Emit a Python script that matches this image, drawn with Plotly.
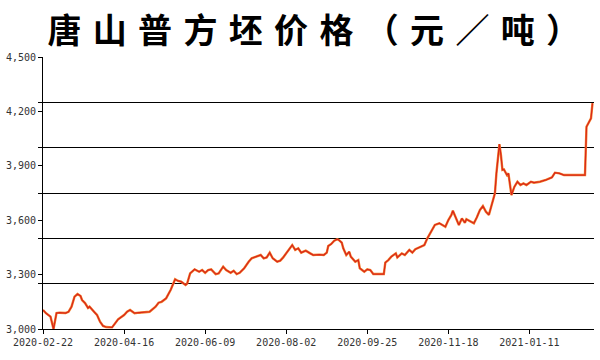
import pandas as pd
import plotly.graph_objects as go

start_date = "2020-02-22"
day_offsets = [0, 2, 5, 7, 9, 11, 15, 17, 19, 21, 23, 25, 26, 28, 30, 31, 34, 36, 38, 40,
               42, 46, 48, 50, 54, 56, 58, 61, 64, 67, 71, 75, 77, 79, 82, 85, 87, 88, 90, 92,
               95, 96, 98, 101, 104, 106, 108, 110, 112, 115, 117, 120, 122, 125, 127, 129, 131, 134, 137, 139,
               142, 145, 147, 149, 151, 153, 156, 158, 160, 162, 164, 166, 168, 170, 172, 175, 178, 180, 184, 187,
               189, 190, 192, 194, 196, 197, 199, 200, 202, 204, 205, 208, 210, 211, 214, 216, 218, 220, 227, 228,
               230, 232, 235, 236, 239, 241, 244, 246, 248, 251, 254, 256, 258, 261, 264, 266, 268, 270, 272, 273,
               275, 277, 279, 281, 282, 285, 287, 289, 291, 293, 295, 297, 299, 301, 302, 303, 304, 305, 306, 307,
               309, 310, 311, 312, 314, 316, 318, 320, 322, 325, 327, 331, 335, 337, 339, 341, 344, 347, 361, 362,
               364, 365, 366]
prices = [3105, 3087, 3068, 3000, 3088, 3090, 3088, 3095, 3123, 3178, 3193, 3182, 3160, 3143, 3116, 3123, 3095, 3077, 3040, 3017,
          3011, 3009, 3031, 3053, 3077, 3095, 3105, 3087, 3090, 3093, 3095, 3123, 3145, 3150, 3169, 3215, 3261, 3274, 3265, 3261,
          3243, 3250, 3307, 3329, 3316, 3325, 3310, 3325, 3329, 3303, 3307, 3344, 3325, 3310, 3321, 3303, 3310, 3335, 3371, 3390,
          3399, 3408, 3390, 3395, 3421, 3390, 3371, 3377, 3395, 3417, 3445, 3463, 3436, 3445, 3421, 3432, 3417, 3408, 3410, 3408,
          3421, 3458, 3469, 3487, 3495, 3491, 3476, 3445, 3408, 3426, 3399, 3371, 3380, 3335, 3316, 3329, 3325, 3303, 3303, 3366,
          3380, 3399, 3417, 3395, 3417, 3408, 3436, 3421, 3440, 3450, 3463, 3500, 3528, 3574, 3583, 3574, 3564, 3601, 3629, 3652,
          3610, 3574, 3610, 3586, 3605, 3592, 3583, 3616, 3656, 3678, 3647, 3629, 3684, 3748, 3858, 3950, 4020, 3960, 3877, 3880,
          3849, 3858, 3785, 3739, 3785, 3812, 3794, 3803, 3794, 3812, 3807, 3812, 3822, 3831, 3836, 3862, 3858, 3849, 3849, 4115,
          4143, 4162, 4245]

x_tick_labels = ["2020-02-22", "2020-04-16", "2020-06-09", "2020-08-02",
                 "2020-09-25", "2020-11-18", "2021-01-11"]
y_tick_values = [3000, 3300, 3600, 3900, 4200, 4500]
grid_values = [3250, 3500, 3750, 4000, 4250, 4500]
y_min, y_max = 3000, 4500
x_end = "2021-02-23"

title_text = "唐山普方坯价格（元／吨）"

dates = pd.to_datetime(start_date) + pd.to_timedelta(day_offsets, unit="D")

fig = go.Figure()
fig.add_trace(go.Scatter(x=dates, y=prices, mode="lines",
                         line=dict(color="#f2812c", width=2.4), hoverinfo="skip"))
fig.add_trace(go.Scatter(x=dates, y=prices, mode="lines",
                         line=dict(color="#d9261b", width=1.2)))
fig.add_trace(go.Scatter(x=[dates[0]], y=[prices[0]], yaxis="y2", mode="lines",
                         line=dict(width=0), hoverinfo="skip", showlegend=False))

tick_font = dict(family="DejaVu Sans Mono", size=10, color="#333333")

fig.update_layout(
    width=600, height=360,
    margin=dict(l=43, r=6, t=57, b=31, autoexpand=False),
    paper_bgcolor="white", plot_bgcolor="white",
    showlegend=False,
    title=dict(text="\u2004".join(title_text), x=0.523, xanchor="center",
               y=0.915, yanchor="middle", automargin=False,
               font=dict(family="Noto Sans CJK SC", size=34, color="black", weight=700)),
    xaxis=dict(type="date", range=[start_date, x_end], automargin=False,
               tickvals=x_tick_labels, ticktext=x_tick_labels,
               showgrid=False, zeroline=False,
               showline=True, linecolor="black", linewidth=1,
               ticks="outside", ticklen=4, tickcolor="black",
               tickfont=tick_font),
    yaxis=dict(range=[y_min, y_max], tickvals=y_tick_values, automargin=False,
               tickformat=",", showgrid=False, zeroline=False,
               showline=True, linecolor="black", linewidth=1,
               ticks="outside", ticklen=4, tickcolor="black",
               tickfont=tick_font),
    yaxis2=dict(range=[y_min, y_max], tickvals=grid_values, overlaying="y", side="left",
                automargin=False,
                showticklabels=False, showgrid=True, gridcolor="black", gridwidth=1,
                zeroline=False, showline=False,
                ticks="outside", ticklen=4, tickcolor="black"),
)

fig.write_html("out.html", config={"displayModeBar": False})

# remove the browser's default page margin so the figure sits at the window's origin
with open("out.html", "r", encoding="utf-8") as f:
    html = f.read()
html = html.replace("<head>", "<head><style>html,body{margin:0;padding:0;overflow:hidden;}</style>", 1)
with open("out.html", "w", encoding="utf-8") as f:
    f.write(html)
